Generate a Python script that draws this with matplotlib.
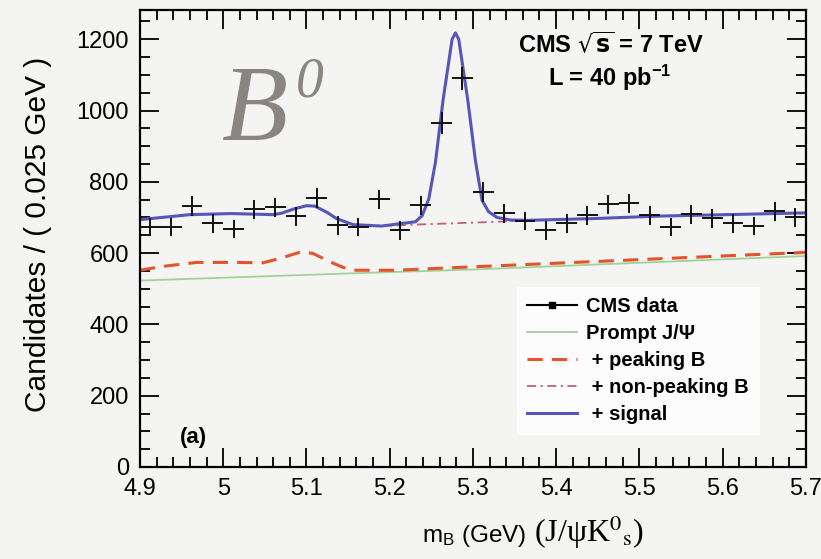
import matplotlib
matplotlib.use("Agg")
import matplotlib.pyplot as plt
from matplotlib.lines import Line2D
from matplotlib.ticker import MultipleLocator
import numpy as np

plt.rcParams['font.family'] = ['Liberation Sans', 'DejaVu Sans']
plt.rcParams['mathtext.fontset'] = 'custom'
plt.rcParams['mathtext.rm'] = 'Liberation Sans'
plt.rcParams['mathtext.bf'] = 'Liberation Sans:bold'
plt.rcParams['mathtext.it'] = 'Liberation Sans:italic'

# B0 -> J/psi K0s candidates, 0.025 GeV bins between 4.9 and 5.7 GeV
bin_width = 0.025
counts = [673, 673, 732, 684, 667, 723, 729, 704, 754, 678, 673, 751, 664, 734, 964, 1090,
          771, 712, 690, 664, 684, 706, 737, 740, 706, 673, 709, 698, 684, 676, 718, 701]
centers = 4.9 + bin_width * (np.arange(len(counts)) + 0.5)

# fit components (stacked)
total_m = [4.900, 4.960, 5.010, 5.060, 5.070, 5.085, 5.100, 5.110, 5.125, 5.136, 5.156, 5.190,
           5.231, 5.239, 5.247, 5.255, 5.264, 5.275, 5.279, 5.283, 5.294, 5.303, 5.311, 5.319,
           5.329, 5.345, 5.365, 5.445, 5.525, 5.605, 5.700]
total_v = [694, 708, 711, 708, 712, 724, 733, 732, 714, 697, 680, 676,
           688, 705, 752, 855, 1027, 1200, 1218, 1200, 1027, 860, 748, 716,
           700, 693, 692, 697, 704, 708, 713]

nonpeak_m = [4.900, 4.960, 5.010, 5.060, 5.070, 5.085, 5.100, 5.110, 5.125, 5.136, 5.156, 5.190,
             5.230, 5.280, 5.330, 5.365, 5.445, 5.525, 5.605, 5.700]
nonpeak_v = [694, 708, 711, 708, 712, 724, 733, 732, 714, 697, 680, 676,
             680, 684, 688, 692, 697, 704, 708, 713]

peaking_m = [4.900, 4.928, 4.968, 5.008, 5.048, 5.068, 5.094, 5.108, 5.128, 5.144, 5.160, 5.208,
             5.284, 5.669, 5.700]
peaking_v = [552, 563, 574, 574, 573, 585, 604, 599, 576, 560, 552, 552,
             560, 599, 602]

prompt_m = [4.900, 5.150, 5.300, 5.700]
prompt_v = [523, 543, 554, 592]

bg = '#f4f4f2'
c_prompt = '#9fd29a'
c_peak = '#e4532c'
c_nonpeak = '#c0607e'
c_total = '#5656b8'

fig = plt.figure(figsize=(8.21, 5.59), dpi=100, facecolor=bg)
ax = fig.add_axes([0.1705, 0.1646, 0.811, 0.8174], facecolor=bg)

ax.plot(prompt_m, prompt_v, color=c_prompt, lw=1.3)
ax.plot(peaking_m, peaking_v, color=c_peak, lw=2.2, dashes=(5, 3))
ax.plot(nonpeak_m, nonpeak_v, color=c_nonpeak, lw=1.3, dashes=(5, 2.5, 1.2, 2.5))
ax.plot(total_m, total_v, color=c_total, lw=2.2)

ax.errorbar(centers, counts, xerr=bin_width / 2, yerr=np.sqrt(counts),
            fmt='none', ecolor='#111111', elinewidth=1.4, capsize=0, zorder=5)

ax.set_xlim(4.9, 5.7)
ax.set_ylim(0, 1282)
ax.xaxis.set_major_locator(MultipleLocator(0.1))
ax.xaxis.set_minor_locator(MultipleLocator(0.02))
ax.yaxis.set_major_locator(MultipleLocator(200))
ax.yaxis.set_minor_locator(MultipleLocator(50))
ax.tick_params(which='both', direction='in', top=True, right=True, width=1.3, labelsize=17)
ax.tick_params(which='major', length=14, pad=8)
ax.tick_params(which='minor', length=7)
ax.set_xticks([4.9, 5.0, 5.1, 5.2, 5.3, 5.4, 5.5, 5.6, 5.7])
ax.set_xticklabels(['4.9', '5', '5.1', '5.2', '5.3', '5.4', '5.5', '5.6', '5.7'])
for s in ax.spines.values():
    s.set_linewidth(1.6)

fig.text(0.046, 0.58, 'Candidates / ( 0.025 GeV )', fontsize=21.5, rotation=90,
         ha='center', va='center')

# x axis title: sans part plus serif decay channel
fig.text(526 / 821, 0.030, r'm$_{\mathrm{B}}$ (GeV)', fontsize=17.5, ha='right', va='baseline')
fig.text(534 / 821, 0.030, '(J/\u03c8K$^{0}$$_{\\rm s}$)', fontsize=23, ha='left', va='baseline',
         family='Liberation Serif', math_fontfamily='stix')

ax.text(0.707, 0.923, r'CMS $\sqrt{\mathbf{s}}$ = 7 TeV', transform=ax.transAxes,
        fontsize=17, fontweight='bold', ha='center', va='center', math_fontfamily='dejavusans')
ax.text(0.706, 0.851, r'L = 40 pb$^{\mathbf{-1}}$', transform=ax.transAxes,
        fontsize=17, fontweight='bold', ha='center', va='center')
ax.text(0.123, 0.716, 'B', transform=ax.transAxes, fontsize=78, style='italic',
        family='Liberation Serif', color='#8a8580', ha='left', va='baseline')
ax.text(0.234, 0.81, '0', transform=ax.transAxes, fontsize=40, style='italic',
        family='Liberation Serif', color='#8a8580', ha='left', va='baseline')
ax.text(0.06, 0.065, '(a)', transform=ax.transAxes, fontsize=16, fontweight='bold',
        ha='left', va='center')

handles = [
    Line2D([], [], color='black', lw=1.5, marker='s', ms=5),
    Line2D([], [], color=c_prompt, lw=1.3),
    Line2D([], [], color=c_peak, lw=2.2, dashes=(5, 3)),
    Line2D([], [], color=c_nonpeak, lw=1.3, dashes=(5, 2.5, 1.2, 2.5)),
    Line2D([], [], color=c_total, lw=2.2),
]
labels = ['CMS data', 'Prompt J/\u03a8', ' + peaking B', ' + non-peaking B', ' + signal']
leg = ax.legend(handles, labels, loc='upper left', bbox_to_anchor=(517 / 821, 1 - 287 / 559),
                bbox_transform=fig.transFigure, frameon=True, fancybox=False,
                borderaxespad=0, handlelength=2.5, labelspacing=0.4, handletextpad=0.45,
                borderpad=0.5, prop={'weight': 'bold', 'size': 14.5})
leg.get_frame().set_facecolor('white')
leg.get_frame().set_edgecolor('white')

fig.savefig('out.png', dpi=100, facecolor=bg)
